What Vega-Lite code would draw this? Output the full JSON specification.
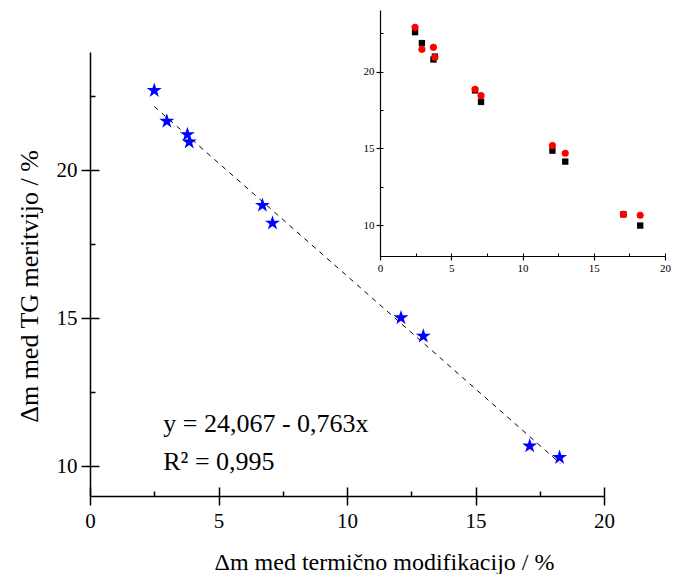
{
  "$schema": "https://vega.github.io/schema/vega-lite/v6.json",
  "width": 514,
  "height": 444,
  "autosize": {"type": "none"},
  "padding": {"left": 90, "top": 52, "right": 73, "bottom": 78},
  "background": "white",
  "config": {
    "view": {"stroke": null},
    "font": "Liberation Serif",
    "axis": {
      "grid": false,
      "domainColor": "black",
      "domainWidth": 1.5,
      "tickColor": "black",
      "tickWidth": 1.5,
      "labelColor": "black",
      "titleColor": "black",
      "labelFont": "Liberation Serif",
      "titleFont": "Liberation Serif",
      "titleFontWeight": "normal",
      "labelFlush": false,
      "labelOverlap": false
    }
  },
  "datasets": {
    "stars": [
      {"dm_mod": 2.50, "dm_tg": 22.70},
      {"dm_mod": 2.99, "dm_tg": 21.66},
      {"dm_mod": 3.79, "dm_tg": 21.21},
      {"dm_mod": 3.86, "dm_tg": 20.96},
      {"dm_mod": 6.71, "dm_tg": 18.82},
      {"dm_mod": 7.10, "dm_tg": 18.22},
      {"dm_mod": 12.10, "dm_tg": 15.02},
      {"dm_mod": 12.97, "dm_tg": 14.40},
      {"dm_mod": 17.11, "dm_tg": 10.69},
      {"dm_mod": 18.27, "dm_tg": 10.30}
    ],
    "fit": [
      {"dm_mod": 2.5, "dm_tg": 22.16},
      {"dm_mod": 18.3, "dm_tg": 10.10}
    ],
    "blackpts": [
      {"dm_mod": 2.46, "v": 22.56},
      {"dm_mod": 2.94, "v": 21.85},
      {"dm_mod": 3.75, "v": 20.78},
      {"dm_mod": 3.85, "v": 20.97},
      {"dm_mod": 6.67, "v": 18.77},
      {"dm_mod": 7.09, "v": 18.02},
      {"dm_mod": 12.10, "v": 14.85},
      {"dm_mod": 13.00, "v": 14.14},
      {"dm_mod": 17.08, "v": 10.71},
      {"dm_mod": 18.26, "v": 9.98}
    ],
    "redpts": [
      {"dm_mod": 2.46, "v": 22.87},
      {"dm_mod": 2.94, "v": 21.44},
      {"dm_mod": 3.75, "v": 21.57},
      {"dm_mod": 3.85, "v": 20.93},
      {"dm_mod": 6.67, "v": 18.84},
      {"dm_mod": 7.09, "v": 18.43},
      {"dm_mod": 12.10, "v": 15.19},
      {"dm_mod": 13.00, "v": 14.68},
      {"dm_mod": 17.08, "v": 10.71},
      {"dm_mod": 18.26, "v": 10.65}
    ],
    "eq": [
      {"label": "y = 24,067 - 0,763x\nR² = 0,995"}
    ]
  },
  "layer": [
    {
      "data": {"name": "fit"},
      "mark": {"type": "line", "color": "black", "strokeWidth": 1, "strokeDash": [5, 5]},
      "encoding": {
        "x": {
          "field": "dm_mod", "type": "quantitative",
          "scale": {"domain": [0, 20], "nice": false, "zero": false},
          "axis": {"orient": "bottom", "offset": -9, "domain": false, "labels": false, "title": null,
                   "values": [0, 5, 10, 15, 20], "tickSize": 9}
        },
        "y": {
          "field": "dm_tg", "type": "quantitative",
          "scale": {"domain": [9, 24], "nice": false, "zero": false},
          "axis": {"orient": "left", "offset": -9, "domain": false, "labels": false, "title": null,
                   "values": [10, 15, 20], "tickSize": 9}
        }
      }
    },
    {
      "data": {"name": "stars"},
      "mark": {"type": "point", "shape": "M0,-1L0.225,-0.309L0.951,-0.309L0.363,0.118L0.588,0.809L0,0.382L-0.588,0.809L-0.363,0.118L-0.951,-0.309L-0.225,-0.309Z", "filled": true, "color": "#0000FF", "size": 250, "opacity": 1},
      "encoding": {
        "x": {
          "field": "dm_mod", "type": "quantitative",
          "scale": {"domain": [0, 20], "nice": false, "zero": false},
          "axis": {"orient": "bottom", "values": [0, 5, 10, 15, 20], "tickSize": 9, "labelFontSize": 21, "labelPadding": 5,
                   "title": "Δm med termično modifikacijo / %", "titleFontSize": 24,
                   "titleX": 294, "titleY": 66, "titleAlign": "center", "titleBaseline": "middle"}
        },
        "y": {
          "field": "dm_tg", "type": "quantitative",
          "scale": {"domain": [9, 24], "nice": false, "zero": false},
          "axis": {"orient": "left", "values": [10, 15, 20], "tickSize": 9, "labelFontSize": 21, "labelPadding": 4,
                   "title": "Δm med TG meritvijo / %", "titleFontSize": 26,
                   "titleX": -61, "titleY": 234, "titleAngle": -90, "titleAlign": "center", "titleBaseline": "middle"}
        }
      }
    },
    {
      "data": {"name": "eq"},
      "mark": {"type": "text", "align": "left", "baseline": "middle", "font": "Liberation Serif", "fontSize": 26, "lineHeight": 38, "lineBreak": "\n", "color": "black"},
      "encoding": {
        "x": {"datum": 2.85, "type": "quantitative", "scale": {"domain": [0, 20], "nice": false, "zero": false},
              "axis": {"orient": "bottom", "offset": -5, "domain": false, "labels": false, "title": null, "values": [2.5, 7.5, 12.5, 17.5], "tickSize": 5}},
        "y": {"datum": 11.43, "type": "quantitative", "scale": {"domain": [9, 24], "nice": false, "zero": false},
              "axis": {"orient": "left", "offset": -5, "domain": false, "labels": false, "title": null, "values": [12.5, 17.5, 22.5], "tickSize": 5}},
        "text": {"field": "label"}
      }
    },
    {
      "data": {"name": "blackpts"},
      "mark": {"type": "point", "shape": "square", "filled": true, "color": "black", "size": 40, "opacity": 1},
      "encoding": {
        "x": {
          "field": "dm_mod", "type": "quantitative",
          "scale": {"domain": [0, 20], "nice": false, "zero": false, "range": [290, 575]},
          "axis": {"orient": "bottom", "offset": -240, "values": [0, 5, 10, 15, 20], "tickSize": 4, "labelFontSize": 11, "labelPadding": 2, "title": null, "domainWidth": 1.2, "tickWidth": 1.2}
        },
        "y": {
          "field": "v", "type": "quantitative",
          "scale": {"domain": [8, 24], "nice": false, "zero": false, "range": [204, -42]},
          "axis": {"orient": "left", "offset": -290, "values": [10, 15, 20], "tickSize": 4, "labelFontSize": 11, "labelPadding": 2, "title": null, "domainWidth": 1.2, "tickWidth": 1.2}
        }
      }
    },
    {
      "data": {"name": "redpts"},
      "mark": {"type": "point", "shape": "circle", "filled": true, "color": "#FF0000", "size": 50, "opacity": 1},
      "encoding": {
        "x": {
          "field": "dm_mod", "type": "quantitative",
          "scale": {"domain": [0, 20], "nice": false, "zero": false, "range": [290, 575]},
          "axis": {"orient": "bottom", "offset": -243, "domain": false, "labels": false, "title": null,
                   "values": [0, 2.5, 5, 7.5, 10, 12.5, 15, 17.5, 20], "tickWidth": 1, "tickSize": 3}
        },
        "y": {
          "field": "v", "type": "quantitative",
          "scale": {"domain": [8, 24], "nice": false, "zero": false, "range": [204, -42]},
          "axis": {"orient": "left", "offset": -293, "domain": false, "labels": false, "title": null,
                   "values": [10, 12.5, 15, 17.5, 20, 22.5], "tickWidth": 1, "tickSize": 3}
        }
      }
    }
  ],
  "resolve": {
    "scale": {"x": "independent", "y": "independent"},
    "axis": {"x": "independent", "y": "independent"}
  }
}
